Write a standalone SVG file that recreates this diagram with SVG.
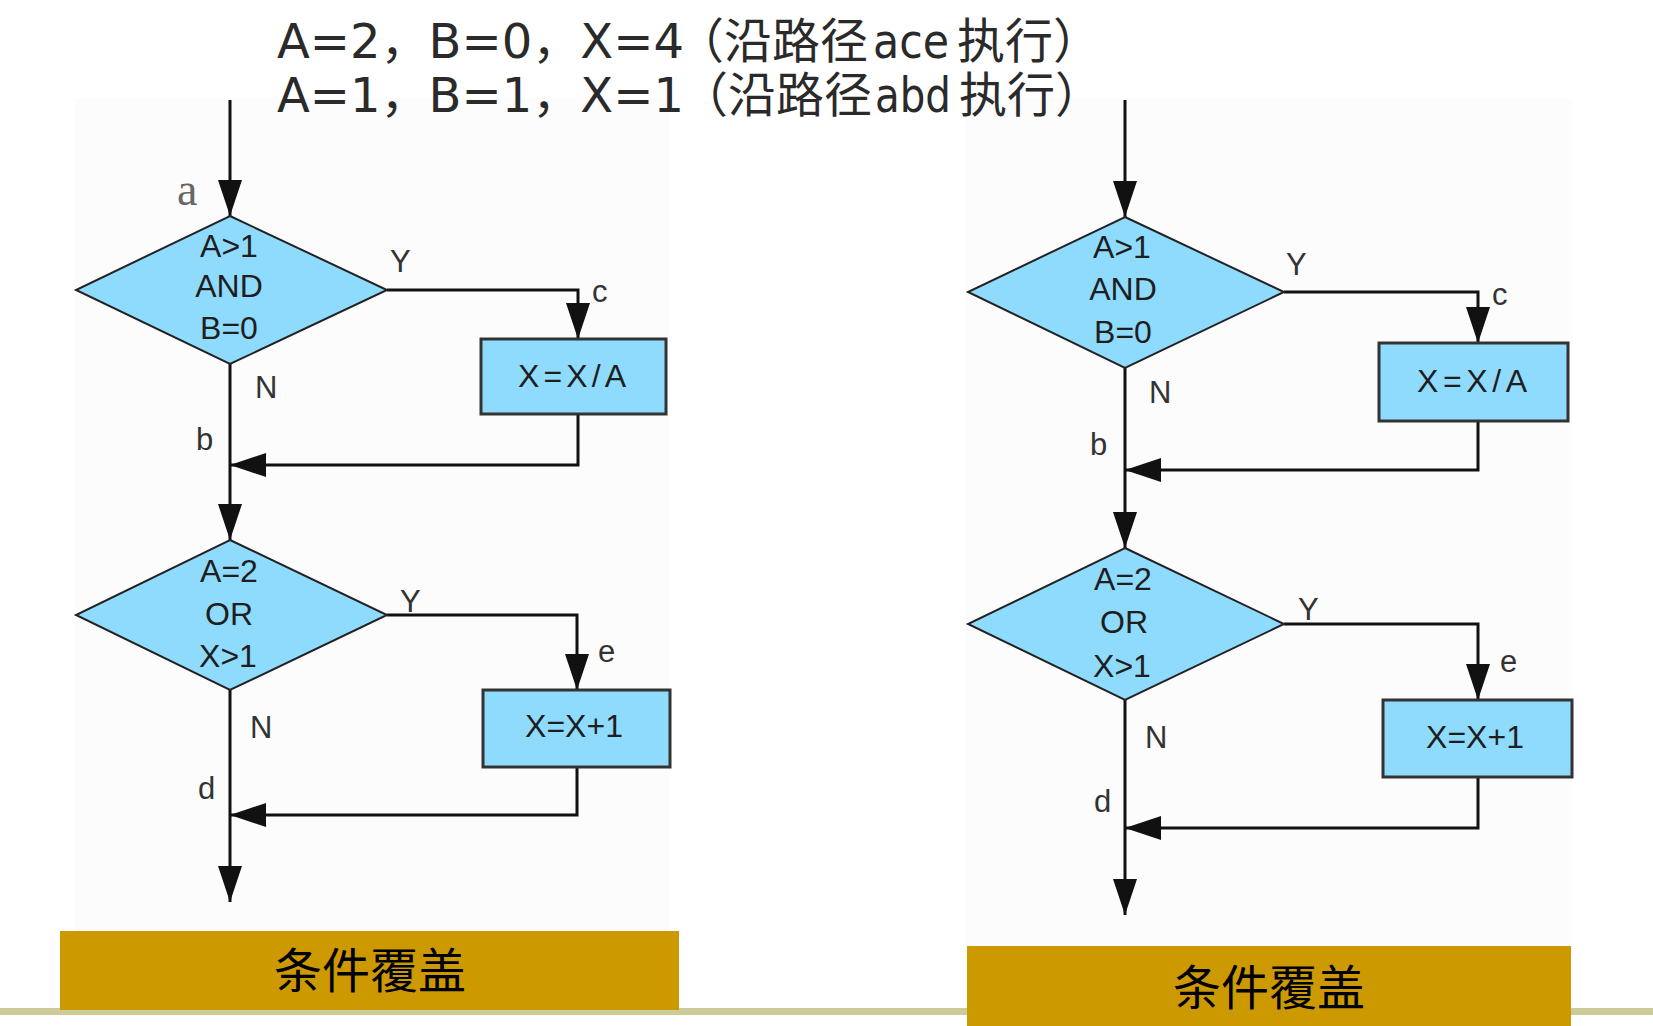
<svg xmlns="http://www.w3.org/2000/svg" width="1653" height="1026" viewBox="0 0 1653 1026">
<defs>
<marker id="ah" markerUnits="userSpaceOnUse" viewBox="0 0 36 24" refX="36" refY="12" markerWidth="36" markerHeight="24" orient="auto">
<path d="M0,0 L36,12 L0,24 Z" fill="#111"/>
</marker>
</defs>
<style>
.bg{fill:#fcfcfc}
.dec{fill:#8fdbfd;stroke:#222;stroke-width:2}
.box{fill:#8fdbfd;stroke:#333;stroke-width:3}
.t{font-family:"Liberation Sans",Arial,sans-serif;font-size:32px;fill:#1e1e1e;text-anchor:middle}
.lbl{font-family:"Liberation Sans",Arial,sans-serif;font-size:31px;fill:#333}
.ser{font-family:"Liberation Serif","Times New Roman",serif;font-size:46px;fill:#666}
.conn path{fill:none;stroke:#111;stroke-width:3;marker-end:url(#ah)}
.head{font-family:"DejaVu Sans","Noto Sans CJK SC",sans-serif;font-size:48px;fill:#2a2a2a}
.gold{fill:#cc9900}
.cap{font-family:"Noto Sans CJK SC",sans-serif;font-size:48px;text-anchor:middle;fill:#000}
</style>
<rect width="1653" height="1026" fill="#ffffff"/>
<rect class="bg" x="75" y="98" width="595" height="833"/>
<rect class="bg" x="965" y="98" width="607" height="848"/>
<rect x="0" y="1008" width="1653" height="7" fill="#cccc99"/>

<g id="header">
<text class="head" x="277" y="58">A=2，B=0，X=4<tspan x="676">（沿路径</tspan><tspan x="873" textLength="76" lengthAdjust="spacingAndGlyphs">ace</tspan><tspan x="957">执行）</tspan></text>
<text class="head" x="277" y="112">A=1，B=1，X=1<tspan x="680">（沿路径</tspan><tspan x="875" textLength="76" lengthAdjust="spacingAndGlyphs">abd</tspan><tspan x="959">执行）</tspan></text>
</g>

<g id="connectors" class="conn">
<path d="M230,100 V216"/>
<path d="M387,290 H578 V339"/>
<path d="M578,414 V465 H230"/>
<path d="M230,364 V540"/>
<path d="M387,615 H577 V690"/>
<path d="M577,767 V815 H230"/>
<path d="M230,690 V902"/>
<path d="M1125,100 V217"/>
<path d="M1284,292 H1478 V343"/>
<path d="M1478,421 V470 H1125"/>
<path d="M1125,368 V548"/>
<path d="M1284,624 H1478 V700"/>
<path d="M1478,777 V828 H1125"/>
<path d="M1125,700 V915"/>
</g>

<g id="L_dec1">
<polygon class="dec" points="230,216 387,290 230,364 76,290"/>
<text class="t" x="229" y="257">A&gt;1</text>
<text class="t" x="229" y="297">AND</text>
<text class="t" x="229" y="339">B=0</text>
</g>
<g id="L_box1">
<rect class="box" x="481" y="339" width="185" height="75"/>
<text class="t" x="572" y="387" textLength="108">X=X/A</text>
</g>
<g id="L_dec2">
<polygon class="dec" points="230,540 387,615 230,690 76,615"/>
<text class="t" x="229" y="582">A=2</text>
<text class="t" x="229" y="625">OR</text>
<text class="t" x="228" y="667">X&gt;1</text>
</g>
<g id="L_box2">
<rect class="box" x="483" y="690" width="187" height="77"/>
<text class="t" x="574" y="737">X=X+1</text>
</g>
<g id="L_labels">
<text class="ser" x="177" y="205">a</text>
<text class="lbl" x="390" y="272">Y</text>
<text class="lbl" x="592" y="302">c</text>
<text class="lbl" x="255" y="398">N</text>
<text class="lbl" x="196" y="450">b</text>
<text class="lbl" x="400" y="612">Y</text>
<text class="lbl" x="598" y="662">e</text>
<text class="lbl" x="250" y="738">N</text>
<text class="lbl" x="198" y="799">d</text>
</g>

<g id="R_dec1">
<polygon class="dec" points="1125,217 1284,292 1125,368 968,292"/>
<text class="t" x="1122" y="258">A&gt;1</text>
<text class="t" x="1123" y="300">AND</text>
<text class="t" x="1123" y="343">B=0</text>
</g>
<g id="R_box1">
<rect class="box" x="1379" y="343" width="189" height="78"/>
<text class="t" x="1472" y="392" textLength="110">X=X/A</text>
</g>
<g id="R_dec2">
<polygon class="dec" points="1125,548 1284,624 1125,700 968,624"/>
<text class="t" x="1123" y="590">A=2</text>
<text class="t" x="1124" y="633">OR</text>
<text class="t" x="1122" y="677">X&gt;1</text>
</g>
<g id="R_box2">
<rect class="box" x="1383" y="700" width="189" height="77"/>
<text class="t" x="1475" y="748">X=X+1</text>
</g>
<g id="R_labels">
<text class="lbl" x="1286" y="275">Y</text>
<text class="lbl" x="1492" y="305">c</text>
<text class="lbl" x="1149" y="403">N</text>
<text class="lbl" x="1090" y="455">b</text>
<text class="lbl" x="1298" y="620">Y</text>
<text class="lbl" x="1500" y="672">e</text>
<text class="lbl" x="1145" y="748">N</text>
<text class="lbl" x="1094" y="812">d</text>
</g>

<g id="L_caption">
<rect class="gold" x="60" y="931" width="619" height="79"/>
<text class="cap" x="370" y="988">条件覆盖</text>
</g>
<g id="R_caption">
<rect class="gold" x="967" y="946" width="604" height="80"/>
<text class="cap" x="1269" y="1005">条件覆盖</text>
</g>
</svg>
